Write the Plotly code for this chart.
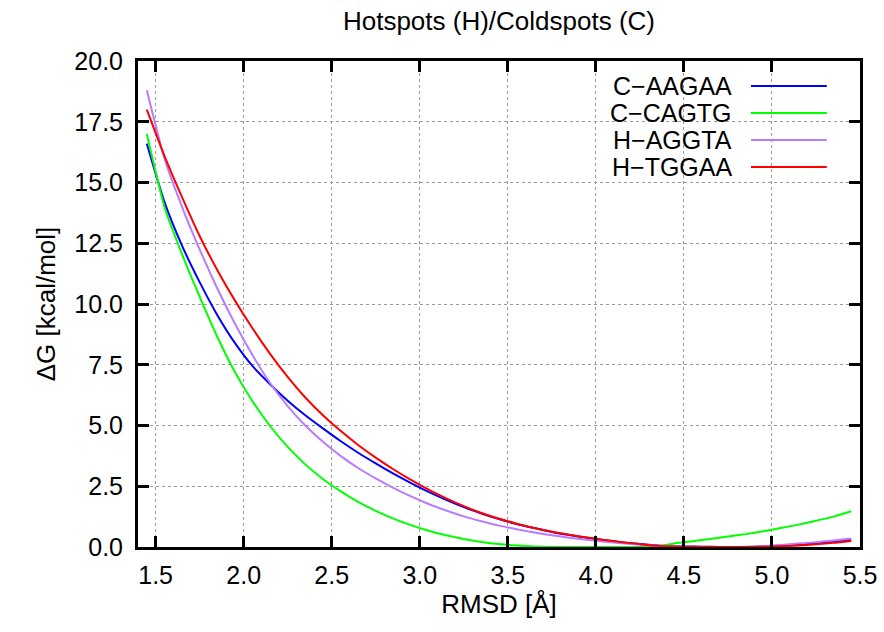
import plotly.graph_objects as go

rmsd = [1.45, 1.55, 1.65, 1.75, 1.85, 1.95, 2.05, 2.15, 2.25, 2.35, 2.45, 2.55, 2.65, 2.75,
        2.85, 2.95, 3.05, 3.15, 3.25, 3.35, 3.45, 3.55, 3.65, 3.75, 3.85, 3.95, 4.05, 4.15,
        4.25, 4.35, 4.45, 4.55, 4.65, 4.75, 4.85, 4.95, 5.05, 5.15, 5.25, 5.35, 5.45]

c_aagaa = [16.6, 14.2, 12.4, 10.9, 9.55, 8.4, 7.45, 6.7, 6.02, 5.42, 4.88, 4.36, 3.88, 3.44,
           3.02, 2.63, 2.27, 1.94, 1.64, 1.38, 1.15, 0.95, 0.78, 0.62, 0.49, 0.38, 0.28, 0.19,
           0.12, 0.06, 0.03, 0.02, 0.01, 0.0, 0.0, 0.02, 0.06, 0.1, 0.16, 0.22, 0.3]

c_cagtg = [17.0, 14.0, 12.05, 10.3, 8.65, 7.2, 6.0, 4.98, 4.12, 3.4, 2.8, 2.3, 1.86, 1.49,
           1.17, 0.9, 0.67, 0.48, 0.33, 0.21, 0.12, 0.06, 0.02, 0.0, 0.0, 0.0, 0.0, 0.0,
           0.0, 0.03, 0.15, 0.24, 0.33, 0.43, 0.53, 0.65, 0.78, 0.92, 1.08, 1.25, 1.47]

h_aggta = [18.8, 16.0, 14.0, 12.25, 10.65, 9.2, 7.9, 6.75, 5.8, 5.0, 4.33, 3.75, 3.25, 2.82,
           2.43, 2.08, 1.77, 1.5, 1.26, 1.06, 0.88, 0.73, 0.6, 0.48, 0.38, 0.3, 0.22, 0.15,
           0.09, 0.05, 0.03, 0.02, 0.01, 0.0, 0.01, 0.03, 0.08, 0.14, 0.2, 0.27, 0.35]

h_tggaa = [18.0, 16.1, 14.4, 12.8, 11.4, 10.15, 9.0, 7.95, 7.0, 6.15, 5.42, 4.78, 4.2, 3.68,
           3.2, 2.76, 2.36, 2.0, 1.68, 1.4, 1.16, 0.96, 0.78, 0.63, 0.5, 0.39, 0.29, 0.2,
           0.12, 0.05, 0.02, 0.01, 0.0, 0.0, 0.0, 0.01, 0.03, 0.06, 0.11, 0.17, 0.25]

series_names = ["C\u2212AAGAA", "C\u2212CAGTG", "H\u2212AGGTA", "H\u2212TGGAA"]
series_values = [c_aagaa, c_cagtg, h_aggta, h_tggaa]
series_colors = ["#0000ff", "#00ff00", "#b77cff", "#ff0000"]

FONT = "Liberation Sans, Arial, Helvetica, sans-serif"

W, H = 884, 632

fig = go.Figure()
for name, vals, col in zip(series_names, series_values, series_colors):
    fig.add_trace(go.Scatter(x=rmsd, y=vals, mode="lines", name=name,
                             line=dict(color=col, width=2, shape="spline", smoothing=0.5),
                             showlegend=False))

# gnuplot-style key: text right-aligned, sample line to the right
row_y = [0.9486, 0.893, 0.8374, 0.7819]
for name, col, yy in zip(series_names, series_colors, row_y):
    fig.add_annotation(x=0.8255, y=yy, xref="paper", yref="paper", text=name,
                       showarrow=False, xanchor="right", yanchor="middle",
                       font=dict(family=FONT, size=25, color="black"))
    fig.add_shape(type="line", xref="paper", yref="paper", x0=0.849, x1=0.954,
                  y0=yy, y1=yy, line=dict(color=col, width=2))

axis_common = dict(showline=True, linecolor="black", linewidth=3, mirror="ticks",
                   ticks="inside", ticklen=11, tickwidth=3, tickcolor="black",
                   showgrid=True, gridcolor="#9a9a9a", gridwidth=1, griddash="dot",
                   zeroline=False, automargin=False,
                   tickfont=dict(family=FONT, size=25, color="black"))

fig.update_xaxes(range=[1.4, 5.5], tick0=1.5, dtick=0.5, tickformat=".1f",
                 ticklabelstandoff=4,
                 title=dict(text="RMSD [\u00c5]", standoff=6,
                            font=dict(family=FONT, size=26, color="black")),
                 **axis_common)
fig.update_yaxes(range=[0, 20], tick0=0, dtick=2.5, tickformat=".1f",
                 ticklabelstandoff=7,
                 title=dict(text="\u0394G [kcal/mol]", standoff=12,
                            font=dict(family=FONT, size=26, color="black")),
                 **axis_common)

fig.update_layout(
    width=W, height=H,
    margin=dict(l=138, r=24, t=61, b=85),
    paper_bgcolor="white", plot_bgcolor="white",
    title=dict(text="Hotspots (H)/Coldspots (C)", x=0.5, xref="paper",
               y=1 - 21 / H, yref="container", xanchor="center", yanchor="middle",
               font=dict(family=FONT, size=26, color="black")),
)

fig.write_html("out.html",
               config={"displayModeBar": False},
               post_script="document.body.style.margin='0px';"
                           "document.body.style.overflow='hidden';")
